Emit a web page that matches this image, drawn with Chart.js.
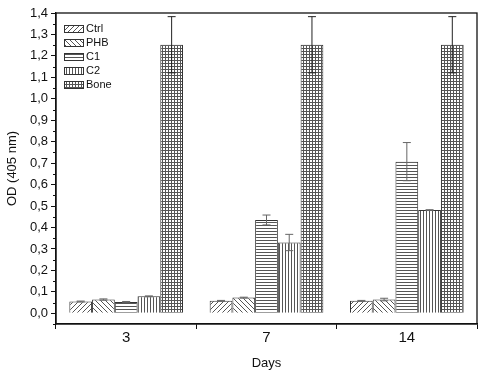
<!DOCTYPE html>
<html>
<head>
<meta charset="utf-8">
<script src="https://cdn.jsdelivr.net/npm/chart.js@4"></script>
<style>
  html, body { margin: 0; padding: 0; background: #fff; }
  #wrap { width: 489px; height: 379px; }
</style>
</head>
<body>
<div id="wrap"><canvas id="odChart"></canvas></div>
<script>
// ---- data ----
const days = ["3", "7", "14"];
const groups = ["Ctrl", "PHB", "C1", "C2", "Bone"];
const ctrlVals = [0.055, 0.058, 0.058];
const phbVals  = [0.064, 0.073, 0.064];
const c1Vals   = [0.053, 0.435, 0.707];
const c2Vals   = [0.079, 0.330, 0.481];
const boneVals = [1.252, 1.252, 1.252];
const ctrlErr = [0.002, 0.002, 0.002];
const phbErr  = [0.003, 0.002, 0.006];
const c1Err   = [0.002, 0.023, 0.089];
const c2Err   = [0.002, 0.038, 0.002];
const boneErr = [0.131, 0.131, 0.131];
const yTicks = [0, 0.1, 0.2, 0.3, 0.4, 0.5, 0.6, 0.7, 0.8, 0.9, 1.0, 1.1, 1.2, 1.3, 1.4];

const values = [ctrlVals, phbVals, c1Vals, c2Vals, boneVals];
const errors = [ctrlErr, phbErr, c1Err, c2Err, boneErr];

const FONT = "'Liberation Sans', Arial, sans-serif";

// ---- hatch patterns ----
function makePattern(kind) {
    const s = kind === "fwd" || kind === "back" ? 5 : 3;
    const c = document.createElement("canvas");
    c.width = s; c.height = s;
    const g = c.getContext("2d");
    g.fillStyle = "#fff";
    g.fillRect(0, 0, s, s);
    g.strokeStyle = "#555";
    g.lineWidth = 1;
    g.beginPath();
    if (kind === "fwd") {
        g.moveTo(0, s); g.lineTo(s, 0);
        g.moveTo(-1, 1); g.lineTo(1, -1);
        g.moveTo(s - 1, s + 1); g.lineTo(s + 1, s - 1);
    } else if (kind === "back") {
        g.moveTo(0, 0); g.lineTo(s, s);
        g.moveTo(s - 1, -1); g.lineTo(s + 1, 1);
        g.moveTo(-1, s - 1); g.lineTo(1, s + 1);
    } else if (kind === "horiz") {
        g.moveTo(0, 0.5); g.lineTo(s, 0.5);
    } else if (kind === "vert") {
        g.moveTo(0.5, 0); g.lineTo(0.5, s);
    } else {
        g.moveTo(0, 0.5); g.lineTo(s, 0.5);
        g.moveTo(0.5, 0); g.lineTo(0.5, s);
    }
    g.stroke();
    return g.createPattern(c, "repeat");
}
const patterns = ["fwd", "back", "horiz", "vert", "grid"].map(makePattern);

// ---- plugins ----
const errorBars = {
    id: "errorBars",
    afterDatasetsDraw(chart) {
        const ctx = chart.ctx;
        const y = chart.scales.y;
        ctx.save();
        ctx.lineWidth = 1;
        errors.forEach((errs, i) => {
            const meta = chart.getDatasetMeta(i);
            ctx.strokeStyle = i === 4 ? "#222" : "#666";
            meta.data.forEach((bar, j) => {
                const v = values[i][j], e = errs[j];
                const top = y.getPixelForValue(v + e);
                const bot = y.getPixelForValue(v - e);
                const w = 4;
                ctx.beginPath();
                ctx.moveTo(bar.x, top); ctx.lineTo(bar.x, bot);
                ctx.moveTo(bar.x - w, top); ctx.lineTo(bar.x + w, top);
                ctx.moveTo(bar.x - w, bot); ctx.lineTo(bar.x + w, bot);
                ctx.stroke();
            });
        });
        ctx.restore();
    }
};

const frameAndLegend = {
    id: "frameAndLegend",
    afterDraw(chart) {
        const ctx = chart.ctx;
        const a = chart.chartArea;
        const y = chart.scales.y;
        ctx.save();
        // frame
        ctx.strokeStyle = "#111";
        ctx.lineWidth = 1.3;
        ctx.strokeRect(a.left, a.top, a.right - a.left, a.bottom - a.top);
        // minor y ticks
        ctx.lineWidth = 1;
        ctx.beginPath();
        for (let k = 0; k < yTicks.length; k++) {
            const py = Math.round(y.getPixelForValue(yTicks[k] - 0.05)) + 0.5;
            ctx.moveTo(a.left - 3, py); ctx.lineTo(a.left, py);
        }
        ctx.stroke();
        // legend
        ctx.font = "11px " + FONT;
        ctx.textBaseline = "middle";
        groups.forEach((name, i) => {
            const cy = a.top + 16 + i * 14;
            const bx = a.left + 8;
            ctx.fillStyle = patterns[i];
            ctx.fillRect(bx, cy - 4, 20, 8);
            ctx.strokeStyle = "#333";
            ctx.strokeRect(bx + 0.5, cy - 3.5, 19, 7);
            ctx.fillStyle = "#111";
            ctx.fillText(name, bx + 22, cy);
        });
        ctx.restore();
    }
};

// ---- chart ----
const ctx = document.getElementById("odChart").getContext("2d");

new Chart(ctx, {
    type: "bar",
    data: {
        labels: days,
        datasets: groups.map((name, i) => ({
            label: name,
            data: values[i],
            backgroundColor: patterns[i],
            borderColor: "#333",
            borderWidth: 1,
            barPercentage: 1.0,
            categoryPercentage: 0.81
        }))
    },
    options: {
        responsive: true,
        maintainAspectRatio: false,
        animation: false,
        layout: { padding: { top: 13, right: 12, left: 5, bottom: 0 } },
        plugins: {
            legend: { display: false },
            tooltip: { enabled: false }
        },
        scales: {
            x: {
                offset: true,
                grid: {
                    offset: true,
                    drawOnChartArea: false,
                    tickLength: 5,
                    color: "#111"
                },
                border: { color: "#111", width: 1.3 },
                ticks: {
                    color: "#111",
                    padding: 0,
                    font: { family: FONT, size: 15 }
                },
                title: {
                    display: true,
                    text: "Days",
                    color: "#111",
                    padding: { top: 6, bottom: 8 },
                    font: { family: FONT, size: 13 }
                },
                afterFit: s => { s.height = 55; }
            },
            y: {
                min: -0.05,
                max: 1.4,
                afterBuildTicks: s => { s.ticks = yTicks.map(v => ({ value: v })); },
                grid: {
                    drawOnChartArea: false,
                    tickLength: 5,
                    color: "#111"
                },
                border: { color: "#111", width: 1.3 },
                ticks: {
                    color: "#111",
                    padding: 3,
                    callback: v => v.toFixed(1).replace(".", ","),
                    font: { family: FONT, size: 13 }
                },
                title: {
                    display: true,
                    text: "OD (405 nm)",
                    color: "#111",
                    padding: { top: 0, bottom: 2 },
                    font: { family: FONT, size: 13 }
                },
                afterFit: s => { s.width = 51; }
            }
        }
    },
    plugins: [errorBars, frameAndLegend]
});
</script>
</body>
</html>
